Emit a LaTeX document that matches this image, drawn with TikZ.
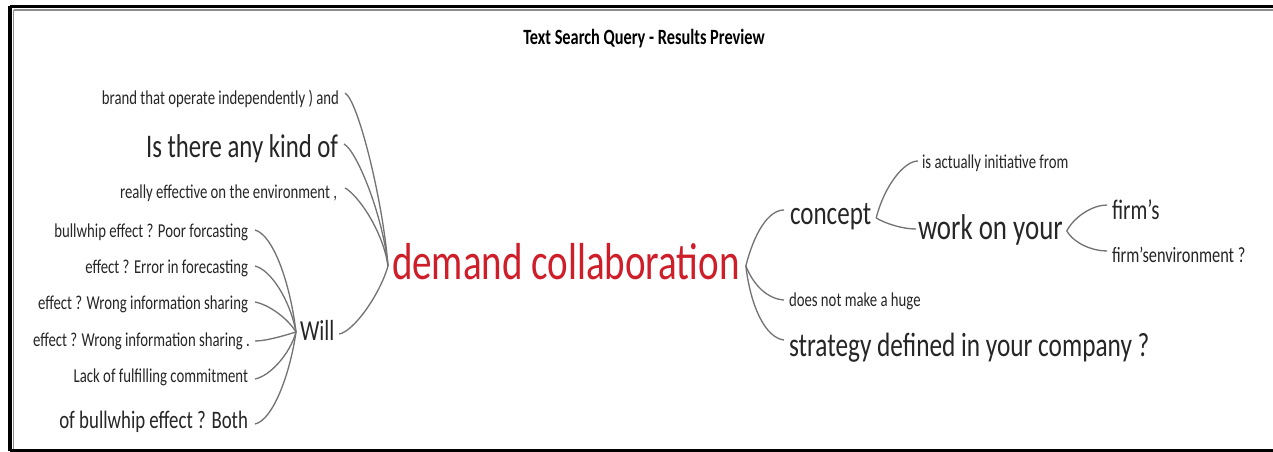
\documentclass[tikz,border=0pt]{standalone}
\usepackage{fontspec}
\setmainfont{Carlito}[FakeStretch=0.75]
\usetikzlibrary{calc}
\definecolor{txt}{RGB}{38,38,38}
\definecolor{redtxt}{RGB}{206,30,42}
\definecolor{lnk}{RGB}{115,115,115}
\newcommand\fsz[1]{\fontsize{#1pt}{#1pt}\selectfont}
\tikzset{
  lbl/.style={inner sep=0pt, outer sep=0pt, text=txt},
  lft/.style={lbl, anchor=mid east},
  rgt/.style={lbl, anchor=mid west},
  conn/.style={draw=lnk, line width=0.75pt},
}
\begin{document}
\begin{tikzpicture}[x=0.02cm, y=-0.02cm]
\useasboundingbox (0,0) rectangle (1273,452);
\fill[white] (0,0) rectangle (1273,452);
% frame
\draw[line width=1.8pt, black] (10,6.5) -- (1273,6.5);
\draw[line width=2.2pt, black] (10,6.5) -- (10,451);
\draw[line width=1.4pt, black] (10,450.5) -- (1273,450.5);
\draw[line width=0.8pt, black!45] (13.5,10) -- (1273,10);
\draw[line width=0.8pt, black!45] (13.5,10) -- (13.5,449);
% title
\node[lbl, font=\fsz{12.4}\bfseries, text=black] (title) at (644,39) {Text Search Query - Results Preview};
% central
\node[rgt, text=redtxt, font=\fsz{29.6}] (demand) at (392,275) {demand collaboration};
% left top group
\node[lft, font=\fsz{11.2}] (brand) at (339,100) {brand that operate independently ) and};
\node[lft, font=\fsz{18.8}] (isthere) at (338,153) {Is there any kind of};
\node[lft, font=\fsz{11.2}] (really) at (337,194) {really effective on the environment ,};
\node[rgt, font=\fsz{16.5}] (will) at (300,336) {Will};
% Will group
\node[lft, font=\fsz{11.2}] (bull) at (248,233) {bullwhip effect ? Poor forcasting};
\node[lft, font=\fsz{11.2}] (error) at (248,269) {effect ? Error in forecasting};
\node[lft, font=\fsz{11.2}] (wrongA) at (248,305) {effect ? Wrong information sharing};
\node[lft, font=\fsz{11.2}] (wrongB) at (250,342) {effect ? Wrong information sharing .};
\node[lft, font=\fsz{11.2}] (lack) at (248,378) {Lack of fulfilling commitment};
\node[lft, font=\fsz{14.3}] (both) at (248,424) {of bullwhip effect ? Both};
% right group
\node[rgt, font=\fsz{19}] (concept) at (790,220) {concept};
\node[rgt, font=\fsz{11.2}] (isact) at (922,164) {is actually initiative from};
\node[rgt, font=\fsz{20.4}] (work) at (918,235) {work on your};
\node[rgt, font=\fsz{16}] (firms) at (1112,215) {firm's};
\node[rgt, font=\fsz{12.4}] (firmsenv) at (1112,258) {firm'senvironment ?};
\node[rgt, font=\fsz{11.2}] (doesnot) at (789,302) {does not make a huge};
\node[rgt, font=\fsz{19.2}] (strategy) at (789,352) {strategy defined in your company ?};
% junction points
\coordinate (jL) at ([xshift=-4*0.02cm, yshift=9*0.02cm]demand.mid west);
\coordinate (jW) at ([xshift=-4*0.02cm, yshift=4*0.02cm]will.mid west);
\coordinate (jR) at ([xshift=6*0.02cm, yshift=9*0.02cm]demand.mid east);
\coordinate (jC) at ([xshift=5*0.02cm, yshift=2*0.02cm]concept.mid east);
\coordinate (jK) at ([xshift=4*0.02cm, yshift=4*0.02cm]work.mid east);
% left top connectors
\draw[conn] (jL) .. controls +(-5,-65) and +(13,7) .. ([xshift=6*0.02cm, yshift=7*0.02cm]brand.mid east);
\draw[conn] (jL) .. controls +(-5,-50) and +(13,7) .. ([xshift=6*0.02cm, yshift=9*0.02cm]isthere.mid east);
\draw[conn] (jL) .. controls +(-5,-35) and +(13,7) .. ([xshift=8*0.02cm, yshift=6*0.02cm]really.mid east);
\draw[conn] (jL) .. controls +(-8,28) and +(15,-3) .. ([xshift=5*0.02cm, yshift=2*0.02cm]will.mid east);
% Will group connectors
\draw[conn] (jW) .. controls +(-6,-50) and +(18,5) .. ([xshift=7*0.02cm, yshift=3*0.02cm]bull.mid east);
\draw[conn] (jW) .. controls +(-6,-32) and +(16,4) .. ([xshift=7*0.02cm, yshift=3*0.02cm]error.mid east);
\draw[conn] (jW) .. controls +(-8,-13) and +(15,3) .. ([xshift=7*0.02cm, yshift=3*0.02cm]wrongA.mid east);
\draw[conn] (jW) .. controls +(-10,3) and +(12,0) .. ([xshift=5*0.02cm, yshift=1*0.02cm]wrongB.mid east);
\draw[conn] (jW) .. controls +(-6,22) and +(15,-3) .. ([xshift=7*0.02cm, yshift=-1*0.02cm]lack.mid east);
\draw[conn] (jW) .. controls +(-6,42) and +(18,-4) .. ([xshift=7*0.02cm, yshift=0*0.02cm]both.mid east);
% right connectors
\draw[conn] (jR) .. controls +(8,-32) and +(-16,0) .. ([xshift=-6*0.02cm, yshift=10*0.02cm]concept.mid west);
\draw[conn] (jR) .. controls +(8,20) and +(-16,-1) .. ([xshift=-5*0.02cm, yshift=2*0.02cm]doesnot.mid west);
\draw[conn] (jR) .. controls +(5,42) and +(-18,-2) .. ([xshift=-5*0.02cm, yshift=12*0.02cm]strategy.mid west);
\draw[conn] (jC) .. controls +(8,-32) and +(-14,0) .. ([xshift=-4*0.02cm, yshift=3*0.02cm]isact.mid west);
\draw[conn] (jC) .. controls +(10,6) and +(-13,0) .. ([xshift=-2*0.02cm, yshift=6*0.02cm]work.mid west);
\draw[conn] (jK) .. controls +(8,-15) and +(-14,0) .. ([xshift=-5*0.02cm, yshift=10*0.02cm]firms.mid west);
\draw[conn] (jK) .. controls +(8,13) and +(-14,0) .. ([xshift=-5*0.02cm, yshift=7*0.02cm]firmsenv.mid west);
\end{tikzpicture}
\end{document}
